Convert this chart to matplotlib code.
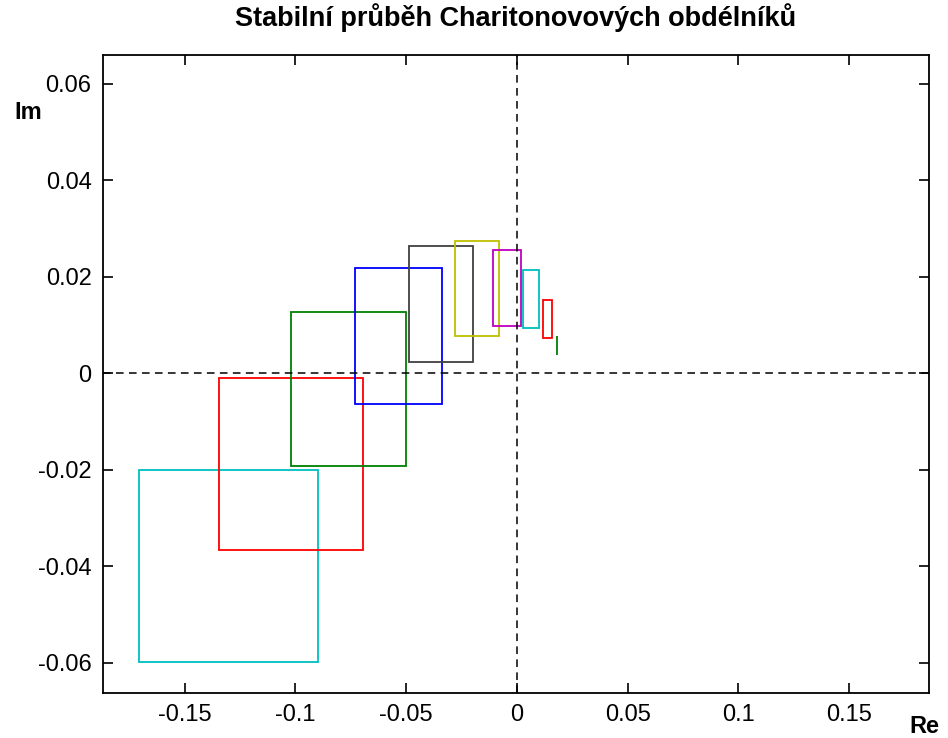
import matplotlib.pyplot as plt
import matplotlib.patches as patches

# Charitonovy obdelniky - meze realne a imaginarni casti
re_min = [-0.1705, -0.1343, -0.1020, -0.0731, -0.0487, -0.0278, -0.0106, 0.0028, 0.0118, 0.0181]
re_max = [-0.0900, -0.0695, -0.0502, -0.0340, -0.0196, -0.0079, 0.0020, 0.0101, 0.0157, 0.0183]
im_min = [-0.0599, -0.0367, -0.0192, -0.0063, 0.0024, 0.0077, 0.0098, 0.0094, 0.0073, 0.0038]
im_max = [-0.0201, -0.0010, 0.0127, 0.0218, 0.0264, 0.0275, 0.0255, 0.0214, 0.0152, 0.0078]
barvy = ['#00bfbf', '#ff0000', '#008000', '#0000ff', '#404040',
         '#bfbf00', '#bf00bf', '#00bfbf', '#ff0000', '#008000']

x_ticks = [-0.15, -0.1, -0.05, 0, 0.05, 0.1, 0.15]
y_ticks = [-0.06, -0.04, -0.02, 0, 0.02, 0.04, 0.06]

plt.rcParams['font.family'] = ['Liberation Sans', 'DejaVu Sans']

fig = plt.figure(figsize=(9.48, 7.38), dpi=100)
ax = fig.add_axes([0.1083, 0.0614, 0.8716, 0.8641])

for x0, x1, y0, y1, c in zip(re_min, re_max, im_min, im_max, barvy):
    ax.add_patch(patches.Rectangle((x0, y0), x1 - x0, y1 - y0, fill=False,
                                   edgecolor=c, linewidth=1.3))

ax.axhline(0, color='black', linestyle=(0, (5, 3.5)), linewidth=1.1)
ax.axvline(0, color='black', linestyle=(0, (5, 3.5)), linewidth=1.1)

ax.set_xlim(-0.187, 0.186)
ax.set_ylim(-0.0662, 0.066)
ax.set_xticks(x_ticks)
ax.set_xticklabels(['-0.15', '-0.1', '-0.05', '0', '0.05', '0.1', '0.15'])
ax.set_yticks(y_ticks)
ax.set_yticklabels(['-0.06', '-0.04', '-0.02', '0', '0.02', '0.04', '0.06'])
ax.tick_params(direction='in', length=7, width=1.2, labelsize=17, pad=8,
               top=True, right=True)
for s in ax.spines.values():
    s.set_linewidth(1.3)

ax.set_title('Stabilní průběh Charitonovových obdélníků', fontsize=19.5,
             fontweight='bold', pad=21)
fig.text(0.030, 0.848, 'Im', fontsize=17, fontweight='bold', ha='center', va='center')
fig.text(0.975, 0.016, 'Re', fontsize=17, fontweight='bold', ha='center', va='center')

plt.savefig('out.png', dpi=100)
